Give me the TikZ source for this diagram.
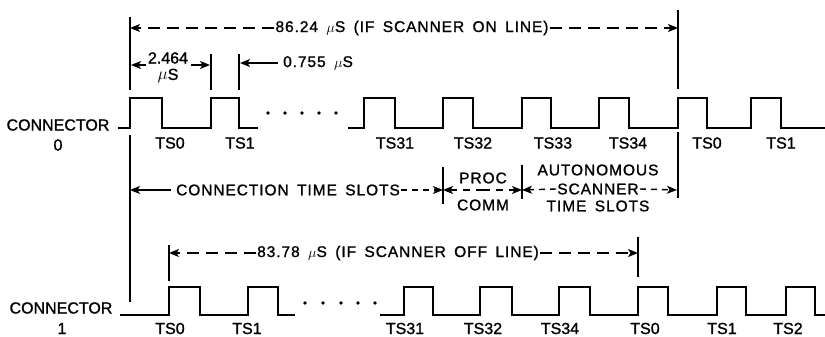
\documentclass[tikz,border=0pt]{standalone}
\usepackage{fontspec}
\setmainfont[FakeBold=1.2,AutoFakeBold=1.2]{Liberation Sans}
\newfontfamily\plainfont[FakeBold=1.2]{Liberation Sans}
\newfontfamily\spacedfont[LetterSpace=6,WordSpace=1.6,FakeBold=1.2]{Liberation Sans}
\usetikzlibrary{arrows.meta}
\begin{document}
\begin{tikzpicture}[x=1pt,y=-1pt,
  wave/.style={line width=2.7pt, line join=miter},
  dim/.style={line width=1.4pt},
  dimdash/.style={dim, dash pattern=on 12pt off 7pt},
  tip/.style={-{Stealth[length=10pt,width=8pt,inset=2.5pt]}},
  lbl/.style={font=\fontsize{16}{17}\selectfont\plainfont, inner sep=0pt},
  slbl/.style={font=\fontsize{15.5}{17}\selectfont\spacedfont, inner sep=1pt},
]
\useasboundingbox (0,0) rectangle (825,337);

% ---------- connector 0 ----------
\node[lbl] (c0a) at (58,125) {CONNECTOR};
\node[lbl] (c0b) at (58,145) {0};
\draw[wave] (118,128) -- (130,128) -- (130,98) -- (162,98) -- (162,128)
  -- (211,128) -- (211,98) -- (239,98) -- (239,128) -- (258,128);
\foreach \x in {268,285,302,319,336} \fill (\x,113) circle (1.8pt);
\draw[wave] (348,128) -- (364,128) -- (364,98) -- (395,98) -- (395,128)
  -- (443,128) -- (443,98) -- (473,98) -- (473,128)
  -- (522,128) -- (522,98) -- (551,98) -- (551,128)
  -- (599,128) -- (599,98) -- (629,98) -- (629,128)
  -- (678,128) -- (678,98) -- (707,98) -- (707,128)
  -- (751,128) -- (751,98) -- (781,98) -- (781,128) -- (826,128);
\node[lbl] (a0) at (170,143) {TS0};
\node[lbl] (a1) at (240,143) {TS1};
\node[lbl] (a31) at (395,143) {TS31};
\node[lbl] (a32) at (473,143) {TS32};
\node[lbl] (a33) at (553,143) {TS33};
\node[lbl] (a34) at (628,143) {TS34};
\node[lbl] (a0b) at (707,143) {TS0};
\node[lbl] (a1b) at (781,143) {TS1};

% reference verticals
\coordinate (v1t) at (130,17);  \coordinate (v1m) at (130,90);
\coordinate (v1u) at (130,135); \coordinate (v1b) at (130,302);
\draw[dim] (v1t) -- (v1m);
\draw[dim] (v1u) -- (v1b);
\coordinate (v2t) at (678,10);  \coordinate (v2m) at (678,89);
\coordinate (v2u) at (678,132); \coordinate (v2b) at (678,198);
\draw[dim] (v2t) -- (v2m);
\draw[dim] (v2u) -- (v2b);

% 86.24 us
\node[slbl] (t86) at (412,28) {86.24 $\mu$S (IF SCANNER ON LINE)};
\coordinate (t86l) at (130,28); \coordinate (t86r) at (678,28);
\draw[dimdash,tip] (t86.west) -- (t86l);
\draw[dimdash,tip] (t86.east) -- (t86r);

% 2.464 us
\coordinate (p1t) at (211,54); \coordinate (p1b) at (211,90);
\coordinate (p2t) at (239,54); \coordinate (p2b) at (239,90);
\draw[dim] (p1t) -- (p1b);
\draw[dim] (p2t) -- (p2b);
\node[lbl] (t2a) at (168,58) {2.464};
\node[lbl] (t2b) at (168,76) {$\mu$S};
\coordinate (t2l) at (131,65); \coordinate (t2r) at (210,65);
\coordinate (t2ls) at (146,65); \coordinate (t2rs) at (191,65);
\draw[dim,tip] (t2ls) -- (t2l);
\draw[dim,tip] (t2rs) -- (t2r);

% 0.755 us
\node[slbl,anchor=west] (t07) at (282,63) {0.755 $\mu$S};
\coordinate (t07l) at (240,63);
\draw[dim,tip] (t07.west) ++(-4,0) -- (t07l);

% connection time slots
\coordinate (k1t) at (443,167); \coordinate (k1b) at (443,204);
\coordinate (k2t) at (522,165); \coordinate (k2b) at (522,199);
\draw[dim] (k1t) -- (k1b);
\draw[dim] (k2t) -- (k2b);
\node[slbl] (tct) at (288,190) {CONNECTION TIME SLOTS};
\coordinate (ctl) at (130,190); \coordinate (ctr) at (443,190);
\draw[dim,tip] (tct.west) ++(-4,0) -- (ctl);
\draw[dimdash,dash pattern=on 6pt off 5pt,tip] (tct.east) -- (ctr);

\node[slbl] (tpr) at (483,178) {PROC};
\node[slbl] (tco) at (483,205) {COMM};
\coordinate (prl) at (443,190); \coordinate (prr) at (522,190);
\coordinate (prm) at (483,190);
\draw[dimdash,dash pattern=on 7pt off 6pt,tip] (prm) -- (prl);
\draw[dimdash,dash pattern=on 7pt off 6pt,tip] (prm) -- (prr);

\node[slbl] (tau) at (598,170) {AUTONOMOUS};
\node[slbl] (tsc) at (598,189) {SCANNER};
\node[slbl] (tts) at (598,206) {TIME SLOTS};
\coordinate (asl) at (522,190); \coordinate (asr) at (677,190);
\draw[dimdash,dash pattern=on 6pt off 5pt,tip] (tsc.west) -- (asl);
\draw[dimdash,dash pattern=on 6pt off 5pt,tip] (tsc.east) -- (asr);

% 83.78 us
\coordinate (m1t) at (169,245); \coordinate (m1b) at (169,281);
\coordinate (m2t) at (638,237); \coordinate (m2b) at (638,277);
\draw[dim] (m1t) -- (m1b);
\draw[dim] (m2t) -- (m2b);
\node[slbl] (t83) at (398,253) {83.78 $\mu$S (IF SCANNER OFF LINE)};
\coordinate (t83l) at (169,253); \coordinate (t83r) at (638,253);
\draw[dimdash,tip] (t83.west) -- (t83l);
\draw[dimdash,tip] (t83.east) -- (t83r);

% ---------- connector 1 ----------
\node[lbl] (c1a) at (61,308) {CONNECTOR};
\node[lbl] (c1b) at (62,328.5) {1};
\draw[wave] (120,315) -- (169,315) -- (169,287) -- (200,287) -- (200,315)
  -- (248,315) -- (248,287) -- (278,287) -- (278,315) -- (295,315);
\foreach \x in {305,323,341,358,375} \fill (\x,303) circle (1.8pt);
\draw[wave] (380,315) -- (404,315) -- (404,287) -- (433,287) -- (433,315)
  -- (480,315) -- (480,287) -- (512,287) -- (512,315)
  -- (559,315) -- (559,287) -- (590,287) -- (590,315)
  -- (638,315) -- (638,287) -- (668,287) -- (668,315)
  -- (717,315) -- (717,287) -- (746,287) -- (746,315)
  -- (786,315) -- (786,287) -- (815,287) -- (815,315) -- (826,315);
\node[lbl] (b0) at (170,328.5) {TS0};
\node[lbl] (b1) at (247,328.5) {TS1};
\node[lbl] (b31) at (405,328.5) {TS31};
\node[lbl] (b32) at (483,328.5) {TS32};
\node[lbl] (b34) at (560,328.5) {TS34};
\node[lbl] (b0b) at (645,328.5) {TS0};
\node[lbl] (b1b) at (722,328.5) {TS1};
\node[lbl] (b2b) at (788,328.5) {TS2};
\end{tikzpicture}
\end{document}
